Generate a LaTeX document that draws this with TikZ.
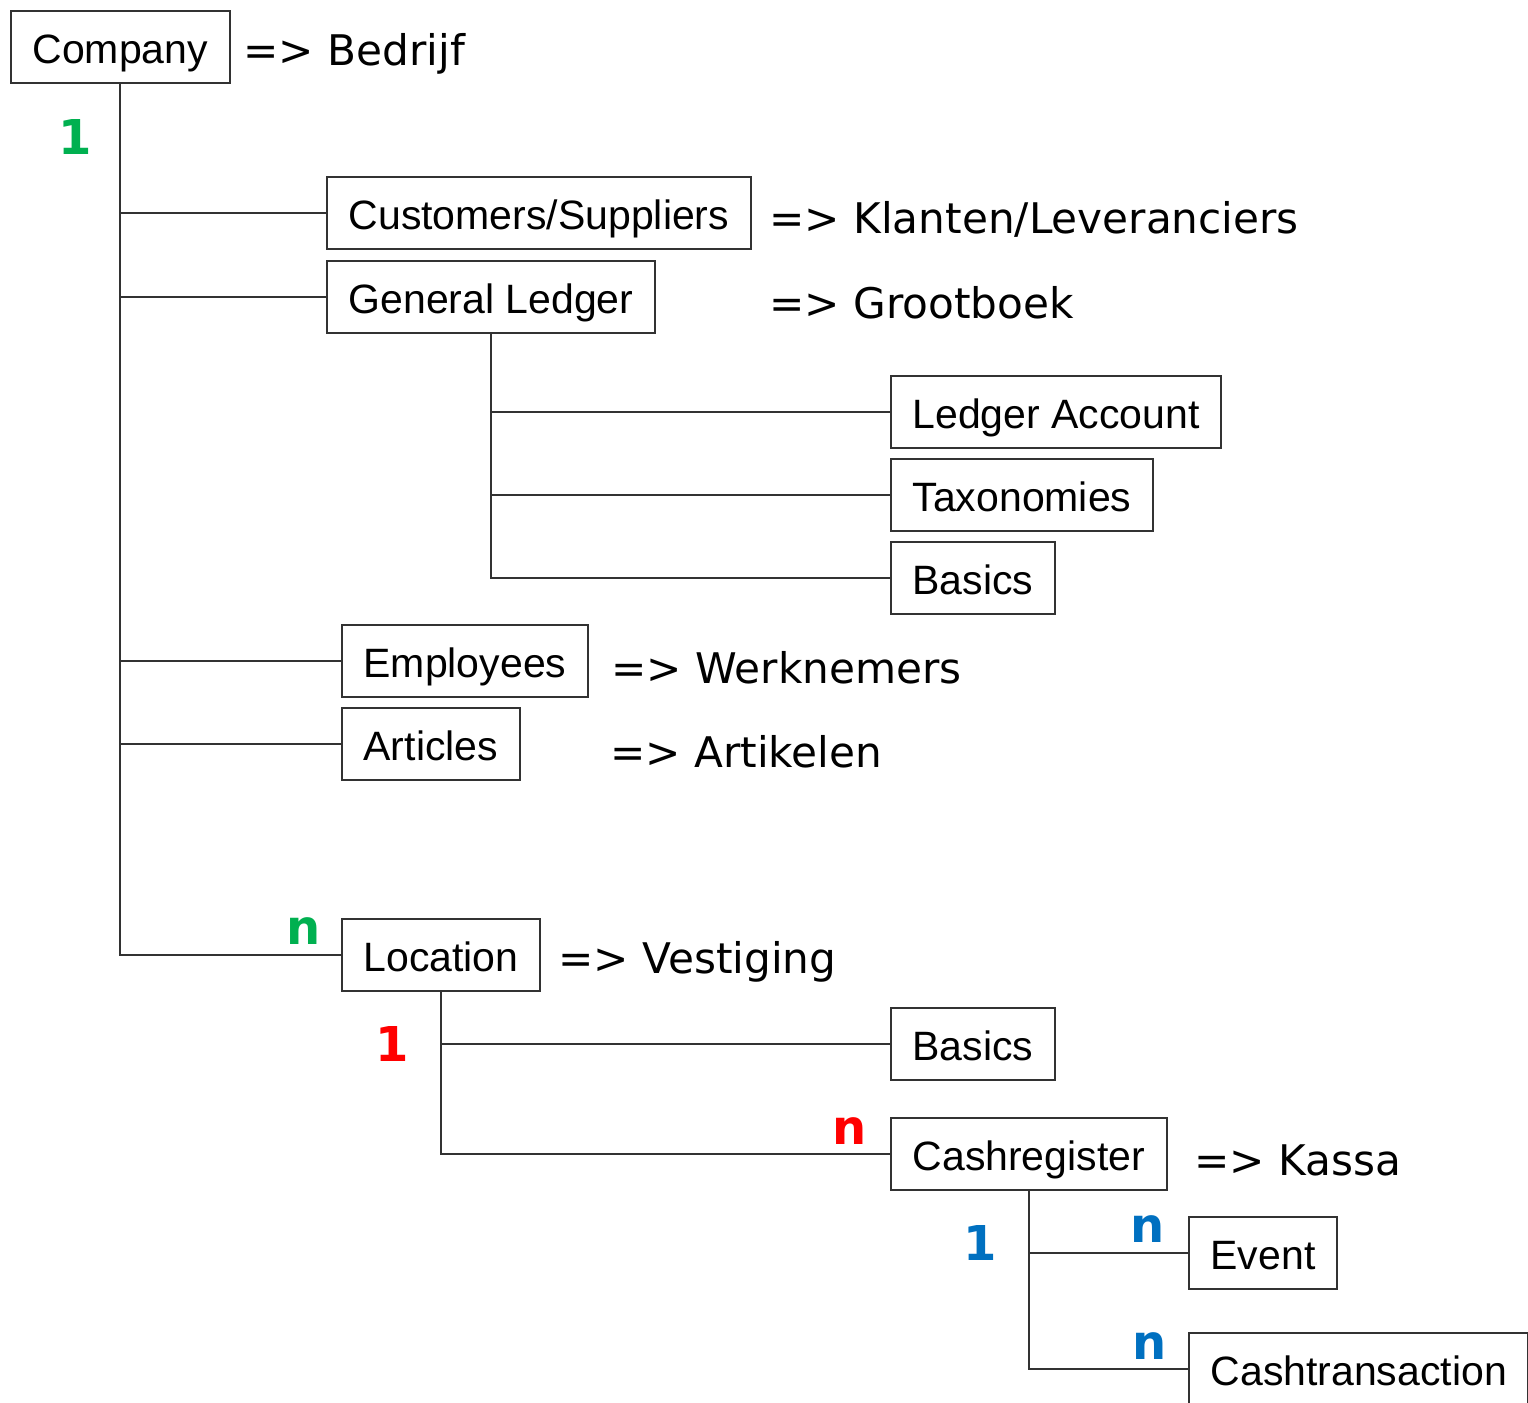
\documentclass[tikz,border=0pt]{standalone}
\usepackage{fontspec}
\setmainfont{Liberation Sans}
\newfontfamily\verdana{DejaVu Sans}
\definecolor{cardgreen}{RGB}{0,176,80}
\definecolor{cardred}{RGB}{255,0,0}
\definecolor{cardblue}{RGB}{0,112,192}
\definecolor{linegray}{RGB}{50,50,50}

\begin{document}
\begin{tikzpicture}[x=0.5pt,y=-0.5pt,
  box/.style={draw=linegray,line width=1pt,anchor=west,inner xsep=10.8pt,
    minimum height=36pt,text height=16.3pt,text depth=0pt,
    font=\fontsize{20.5}{24}\selectfont},
  trans/.style={anchor=base west,inner sep=0pt,font=\verdana\fontsize{21.1}{25}\selectfont},
  card/.style={inner sep=0pt,font=\verdana\bfseries\fontsize{24}{28}\selectfont},
  link/.style={draw=linegray,line width=1pt}]
  \useasboundingbox (0,0) rectangle (1528,1403);

  \node[box] (company) at (10,47) {Company};
  \node[trans] (bedrijf) at (243,65) {=> Bedrijf};

  \node[box] (cust) at (326,213) {Customers/Suppliers};
  \node[trans] (klanten) at (769,233) {=> Klanten/Leveranciers};
  \node[box] (ledger) at (326,297) {General Ledger};
  \node[trans] (grootboek) at (769,318) {=> Grootboek};
  \node[box] (account) at (890,412) {Ledger Account};
  \node[box] (taxo) at (890,495) {Taxonomies};
  \node[box] (basics) at (890,578) {Basics};
  \node[box] (employees) at (341,661) {Employees};
  \node[trans] (werknemers) at (611,683) {=> Werknemers};
  \node[box] (articles) at (341,744) {Articles};
  \node[trans] (artikelen) at (610,767) {=> Artikelen};

  \node[box] (location) at (341,955) {Location};
  \node[trans] (vestiging) at (558,973) {=> Vestiging};
  \node[box] (locbasics) at (890,1044) {Basics};
  \node[box] (register) at (890,1154) {Cashregister};
  \node[trans] (kassa) at (1194,1175) {=> Kassa};
  \node[box] (event) at (1188,1253) {Event};
  \node[box] (transaction) at (1188,1369) {Cashtransaction};

  % tree lines
  \foreach \n in {cust,ledger,employees,articles,location}
    \draw[link] (company.south) |- (\n.west);
  \foreach \n in {account,taxo,basics}
    \draw[link] (ledger.south) |- (\n.west);
  \foreach \n in {locbasics,register}
    \draw[link] (location.south) |- (\n.west);
  \foreach \n in {event,transaction}
    \draw[link] (register.south) |- (\n.west);

  % cardinalities
  \node[card,text=cardgreen] (companyone) at (75,137) {1};
  \node[card,text=cardgreen] (locationn) at (304,931) {n};
  \node[card,text=cardred] (locationone) at (392,1044) {1};
  \node[card,text=cardred] (registern) at (850,1131) {n};
  \node[card,text=cardblue] (registerone) at (980,1243) {1};
  \node[card,text=cardblue] (eventn) at (1148,1229) {n};
  \node[card,text=cardblue] (transactionn) at (1150,1346) {n};
\end{tikzpicture}
\end{document}
